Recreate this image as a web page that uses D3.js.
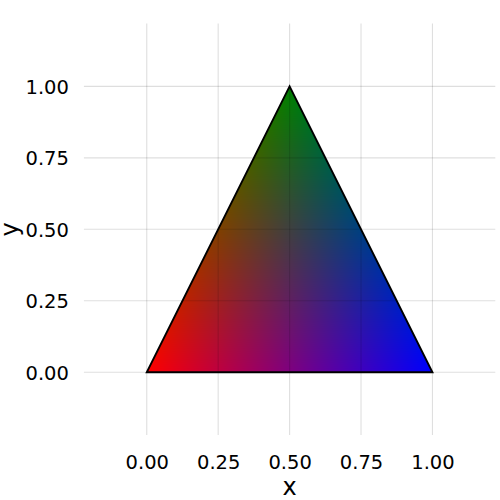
<!DOCTYPE html>
<html>
<head>
<meta charset="utf-8">
<script src="https://cdn.jsdelivr.net/npm/d3@7"></script>
<style>
  html, body { margin: 0; padding: 0; background: #fff; }
  svg { display: block; }
  text { font-family: "DejaVu Sans", sans-serif; fill: #000; }
</style>
</head>
<body>
<svg id="chart" width="500" height="500"></svg>
<script>
// ---- data ----
const vertexX = [0, 1, 0.5];
const vertexY = [0, 0, 1];
const vertexColors = ["#ff0000", "#0000ff", "#008000"];
const xTicks = [0, 0.25, 0.5, 0.75, 1];
const yTicks = [0, 0.25, 0.5, 0.75, 1];
const xTickLabels = ["0.00", "0.25", "0.50", "0.75", "1.00"];
const yTickLabels = ["0.00", "0.25", "0.50", "0.75", "1.00"];
const xTitle = "x";
const yTitle = "y";

// ---- layout ----
const W = 500, H = 500;
const panel = { left: 83.9, right: 495.3, top: 23.5, bottom: 435.1 };
const x = d3.scaleLinear().domain([-0.22, 1.22]).range([panel.left, panel.right]);
const y = d3.scaleLinear().domain([-0.22, 1.22]).range([panel.bottom, panel.top]);

const svg = d3.select("#chart");

// ---- gradient triangle raster ----
const pw = Math.ceil(panel.right - panel.left), ph = Math.ceil(panel.bottom - panel.top);
const canvas = document.createElement("canvas");
canvas.width = pw; canvas.height = ph;
const ctx = canvas.getContext("2d");
const img = ctx.createImageData(pw, ph);
const cols = vertexColors.map(c => d3.rgb(c));
const [x1, x2, x3] = vertexX, [y1, y2, y3] = vertexY;
const det = (y2 - y3) * (x1 - x3) + (x3 - x2) * (y1 - y3);
for (let j = 0; j < ph; j++) {
  for (let i = 0; i < pw; i++) {
    const dx = x.invert(panel.left + i + 0.5);
    const dy = y.invert(panel.top + j + 0.5);
    let a = ((y2 - y3) * (dx - x3) + (x3 - x2) * (dy - y3)) / det;
    let b = ((y3 - y1) * (dx - x3) + (x1 - x3) * (dy - y3)) / det;
    let c = 1 - a - b;
    const tol = 0.02;
    if (a < -tol || b < -tol || c < -tol) continue;
    a = Math.max(0, a); b = Math.max(0, b); c = Math.max(0, c);
    const s = a + b + c; a /= s; b /= s; c /= s;
    const k = (j * pw + i) * 4;
    img.data[k] = a * cols[0].r + b * cols[1].r + c * cols[2].r;
    img.data[k + 1] = a * cols[0].g + b * cols[1].g + c * cols[2].g;
    img.data[k + 2] = a * cols[0].b + b * cols[1].b + c * cols[2].b;
    img.data[k + 3] = 255;
  }
}
ctx.putImageData(img, 0, 0);

const pts = vertexX.map((vx, i) => [x(vx), y(vertexY[i])]);
const line = d3.line();

svg.append("defs").append("clipPath").attr("id", "tri")
  .append("path").attr("d", line(pts) + "Z");

svg.append("image")
  .attr("x", panel.left).attr("y", panel.top)
  .attr("width", pw).attr("height", ph)
  .attr("href", canvas.toDataURL())
  .attr("clip-path", "url(#tri)");

// ---- grid (drawn over, semi-transparent) ----
const grid = svg.append("g").attr("stroke", "#000").attr("stroke-opacity", 0.13).attr("stroke-width", 1.1);
grid.selectAll("line.v").data(xTicks).join("line")
  .attr("x1", d => x(d)).attr("x2", d => x(d))
  .attr("y1", panel.top).attr("y2", panel.bottom);
grid.selectAll("line.h").data(yTicks).join("line")
  .attr("x1", panel.left).attr("x2", panel.right)
  .attr("y1", d => y(d)).attr("y2", d => y(d));

// ---- triangle outline ----
svg.append("path")
  .attr("d", line(pts) + "Z")
  .attr("fill", "none")
  .attr("stroke", "#000")
  .attr("stroke-width", 1.9)
  .attr("stroke-linejoin", "miter");

// ---- axes ----
const xAxis = d3.axisBottom(x).tickValues(xTicks).tickSize(0).tickPadding(0)
  .tickFormat((d, i) => xTickLabels[i]);
const gx = svg.append("g").attr("transform", `translate(0,${panel.bottom})`).call(xAxis);
gx.select(".domain").remove();
gx.selectAll("text").attr("font-size", 19.5).attr("font-family", "DejaVu Sans")
  .attr("fill", "#000").attr("y", 20.5).attr("dy", "0.71em").attr("transform", null);

const yAxis = d3.axisLeft(y).tickValues(yTicks).tickSize(0).tickPadding(0)
  .tickFormat((d, i) => yTickLabels[i]);
const gy = svg.append("g").attr("transform", `translate(${panel.left},0)`).call(yAxis);
gy.select(".domain").remove();
gy.selectAll("text").attr("font-size", 19.5).attr("font-family", "DejaVu Sans")
  .attr("fill", "#000").attr("x", -15).attr("dy", "0.36em");

svg.append("text").attr("x", (panel.left + panel.right) / 2).attr("y", 495)
  .attr("text-anchor", "middle").attr("font-size", 24).text(xTitle);
svg.append("text")
  .attr("transform", `translate(18,${(panel.top + panel.bottom) / 2}) rotate(-90)`)
  .attr("text-anchor", "middle").attr("font-size", 24).text(yTitle);
</script>
</body>
</html>
